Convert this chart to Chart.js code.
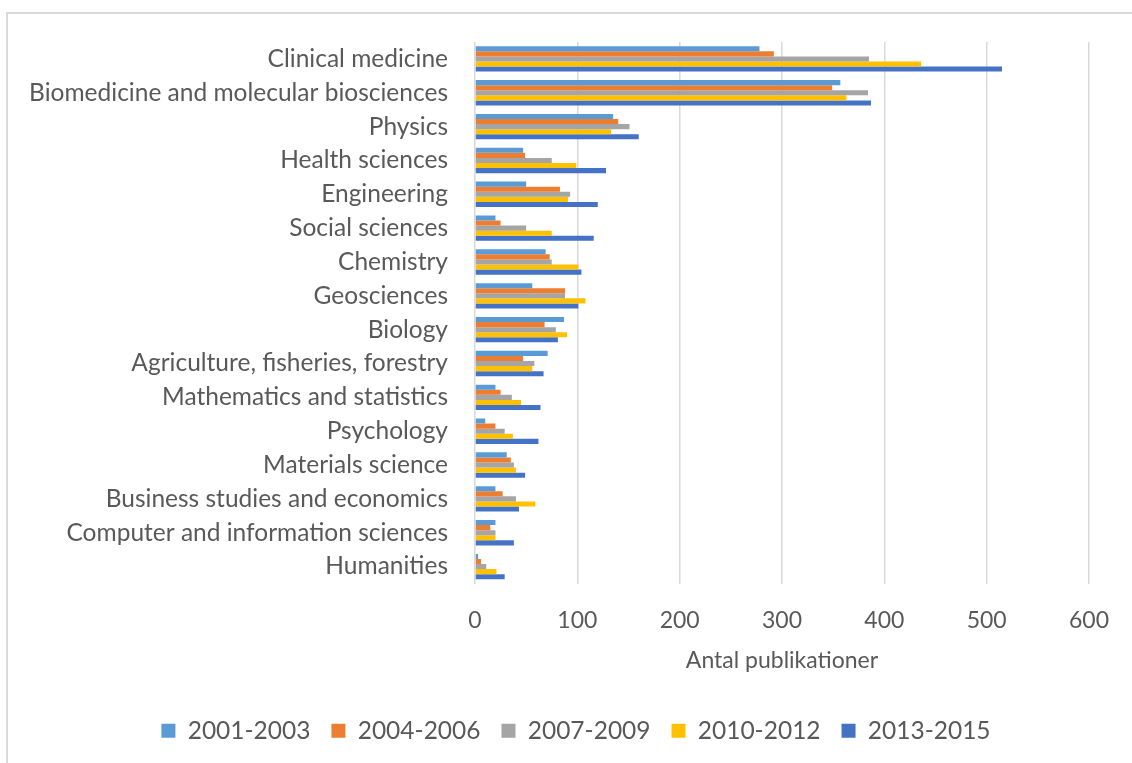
<!DOCTYPE html>
<html>
<head>
<meta charset="utf-8">
<script src="https://cdn.jsdelivr.net/npm/chart.js@4"></script>
<style>
  html, body { margin: 0; padding: 0; background: #fff; }
  .wrap { position: relative; width: 1132px; height: 763px; overflow: hidden; }
  .frame { position: absolute; left: 6px; top: 12px; width: 1200px; height: 800px; border: 2px solid #d9d9d9; box-sizing: border-box; }
  canvas { position: absolute; left: 0; top: 0; }
</style>
</head>
<body>
<div class="wrap">
  <div class="frame"></div>
  <canvas id="chart" width="1132" height="763"></canvas>
</div>
<script>
// Subject fields, top to bottom
const categories = [
  'Clinical medicine',
  'Biomedicine and molecular biosciences',
  'Physics',
  'Health sciences',
  'Engineering',
  'Social sciences',
  'Chemistry',
  'Geosciences',
  'Biology',
  'Agriculture, fisheries, forestry',
  'Mathematics and statistics',
  'Psychology',
  'Materials science',
  'Business studies and economics',
  'Computer and information sciences',
  'Humanities',
];

const periods = ['2001-2003', '2004-2006', '2007-2009', '2010-2012', '2013-2015'];

// values
const p2001 = [278, 357, 135, 47, 50, 20, 69, 56, 87, 71, 20, 10, 31, 20, 20, 3];
const p2004 = [292, 349, 140, 49, 83, 25, 73, 88, 68, 47, 25, 20, 35, 27, 15, 6];
const p2007 = [385, 384, 151, 75, 93, 50, 75, 88, 79, 58, 36, 29, 38, 40, 20, 11];
const p2010 = [436, 363, 133, 99, 91, 75, 101, 108, 90, 56, 45, 37, 40, 59, 20, 21];
const p2013 = [515, 387, 160, 128, 120, 116, 104, 101, 81, 67, 64, 62, 49, 43, 38, 29];

const xTicks = [0, 100, 200, 300, 400, 500, 600];

const colors = ['#5B9BD5', '#ED7D31', '#A5A5A5', '#FFC000', '#4472C4'];
const seriesValues = [p2001, p2004, p2007, p2010, p2013];

const textColor = '#595959';
const fontFamily = 'Lato, "Open Sans", sans-serif';

// the legend in the original sits a bit right of the canvas centre
const legendShift = {
  id: 'legendShift',
  afterLayout(chart) {
    const dx = 30;
    chart.legend.left += dx;
    chart.legend.right += dx;
  },
};

const ctx = document.getElementById('chart');

// eslint-disable-next-line no-undef
new Chart(ctx, {
  type: 'bar',
  data: {
    labels: categories,
    datasets: periods.map((p, i) => ({
      label: p,
      data: seriesValues[i],
      backgroundColor: colors[i],
      borderWidth: 0,
      categoryPercentage: 0.75,
      barPercentage: 1.0,
    })),
  },
  options: {
    indexAxis: 'y',
    responsive: false,
    animation: false,
    layout: {
      padding: { top: 42, right: 40, left: 0, bottom: 10 },
    },
    scales: {
      x: {
        min: 0,
        max: 600,
        afterBuildTicks: (scale) => {
          scale.ticks = xTicks.map((v) => ({ value: v }));
        },
        grid: { color: '#d9d9d9', lineWidth: 1.5, drawTicks: false },
        border: { display: false },
        ticks: {
          color: textColor,
          font: { family: fontFamily, size: 23 },
          padding: 23,
        },
        title: {
          display: true,
          text: 'Antal publikationer',
          color: textColor,
          font: { family: fontFamily, size: 23 },
          padding: { top: 13, bottom: 23 },
        },
        afterFit: (scale) => {
          scale.height = 114;
        },
      },
      y: {
        grid: { display: false, drawTicks: false },
        border: { display: false },
        ticks: {
          color: textColor,
          font: { family: fontFamily, size: 24.5 },
          padding: 27,
          autoSkip: false,
        },
        afterFit: (scale) => {
          scale.width = 475;
        },
      },
    },
    plugins: {
      legend: {
        position: 'bottom',
        labels: {
          color: textColor,
          font: { family: fontFamily, size: 24.5 },
          boxWidth: 14,
          boxHeight: 14,
          padding: 21,
        },
      },
      tooltip: { enabled: false },
    },
  },
  plugins: [legendShift],
});
</script>
</body>
</html>
